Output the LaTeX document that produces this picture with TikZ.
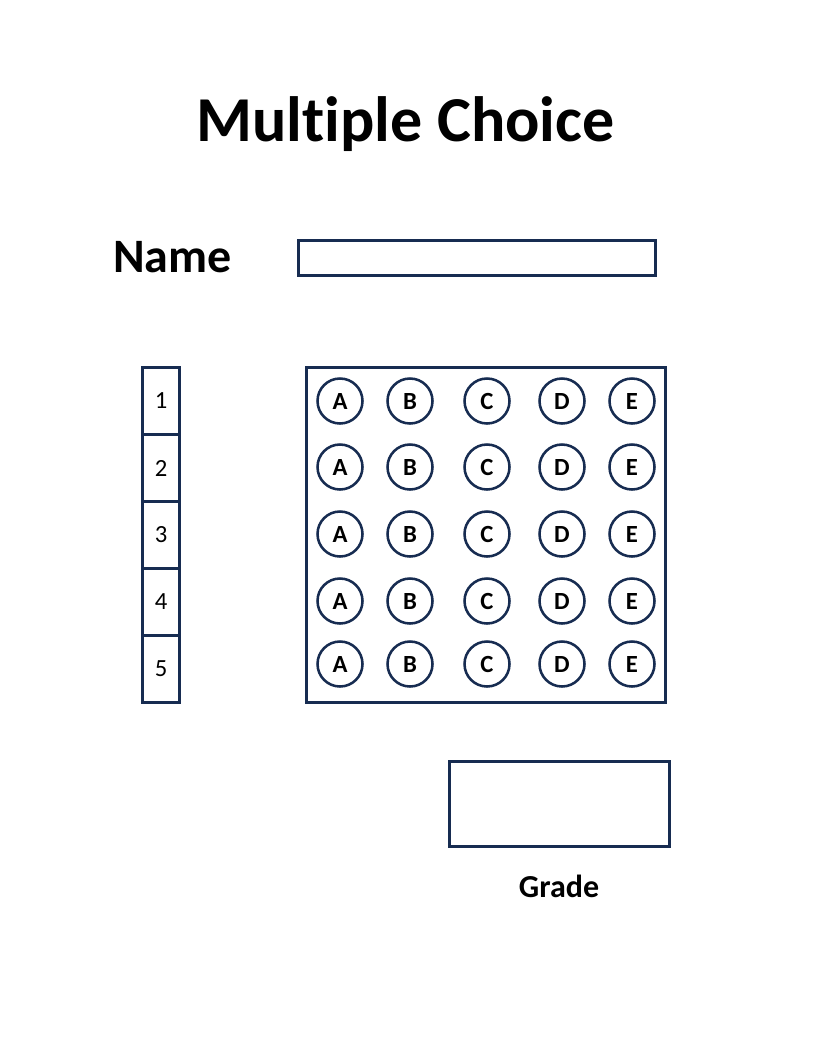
\documentclass[tikz,border=0pt]{standalone}
\usepackage{fontspec}
\setmainfont{Carlito}[Ligatures=NoCommon]
\usetikzlibrary{positioning}
\definecolor{navy}{HTML}{172C51}

\tikzset{
	outline/.style={draw=navy, line width=2.25pt},
	bubble/.style={circle, draw=navy, line width=1.9pt, minimum size=33.75pt, inner sep=0pt, font=\fontsize{18.5}{20}\selectfont\bfseries},
	numcell/.style={rectangle, draw=navy, line width=2.25pt, minimum width=27.75pt, minimum height=50.25pt, inner sep=0pt, font=\fontsize{18.5}{20}\selectfont},
}

\begin{document}
\begin{tikzpicture}[x=0.75pt, y=-0.75pt]

	\useasboundingbox [fill=white] (0, 0) rectangle (816, 1056);

	\node (title) [anchor=base, font=\fontsize{48}{56}\selectfont\bfseries] at (405.5, 141) {Multiple Choice};

	\node (name) [anchor=base west, inner sep=0pt, font=\fontsize{36}{42}\selectfont\bfseries] at (113, 272) {Name};
	\draw [outline] (298.5, 240.5) coordinate (nb1) rectangle (655.5, 275) coordinate (nb2);

	% question numbers
	\foreach \i in {1,...,5} {
		\node (n\i) [numcell] at (161, {367.5+67*(\i-0.5)}) {\i};
	}

	% answer sheet
	\draw [outline] (306.5, 367.5) coordinate (s1) rectangle (665.5, 702.5) coordinate (s2);

	\foreach \i/\y in {1/401, 2/467, 3/534, 4/601, 5/664} {
		\foreach \l/\x in {A/340, B/410, C/487, D/562, E/632}
			\node (\l\i) [bubble] at (\x, \y) {\l};
	}

	% grade
	\draw [outline] (449.5, 761) coordinate (g1) rectangle (669, 846) coordinate (g2);
	\node (grade) [anchor=base, font=\fontsize{24}{28}\selectfont\bfseries] at (559, 897) {Grade};

\end{tikzpicture}
\end{document}
